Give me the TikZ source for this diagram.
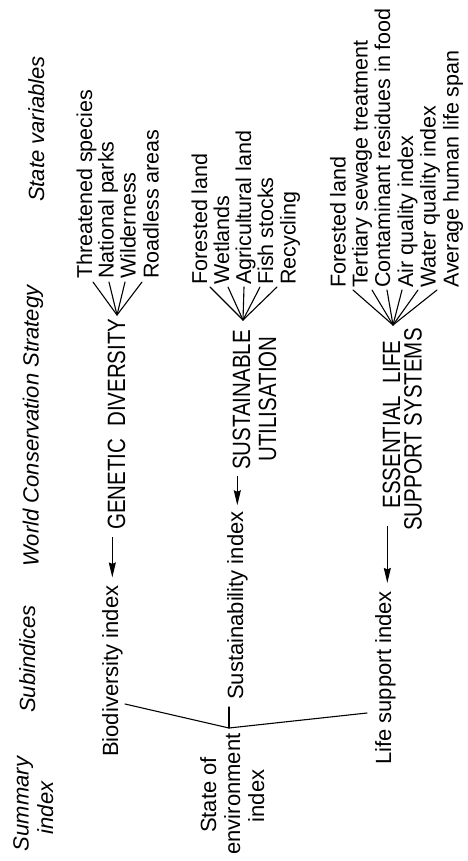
\documentclass[tikz,border=0pt]{standalone}
\usepackage{fontspec}
\setmainfont{Liberation Sans}
\newfontfamily\capsfont[FakeStretch=0.82]{Liberation Sans}
\usetikzlibrary{arrows.meta,calc}
\begin{document}
\begin{tikzpicture}[x=1pt,y=-1pt,
  lab/.style={rotate=90, inner sep=0pt, font=\fontsize{21.5}{24}\selectfont},
  sub/.style={rotate=90, inner sep=0pt, font=\fontsize{22}{24}\selectfont},
  caps/.style={rotate=90, inner sep=0pt, font=\capsfont\fontsize{25}{28}\selectfont},
  hdr/.style={rotate=90, inner sep=0pt, font=\itshape\fontsize{22}{24}\selectfont},
  ln/.style={line width=1.1pt, line cap=round},
  arr/.style={line width=1.1pt, -{Stealth[length=15pt,width=7pt,inset=1.5pt]}}]
\useasboundingbox (0,0) rectangle (467,861);

% headers
\node[hdr, anchor=base west] (hsv) at (44,202) {State variables};
\node[hdr, anchor=base west] (hwcs) at (38.5,567) {World Conservation Strategy};
\node[hdr, anchor=base west] (hsub) at (35,713) {Subindices};
\node[hdr, anchor=base] (hsum1) at (28.5,804) {Summary};
\node[hdr, anchor=base] (hsum2) at (53,808) {index};

% state variables: genetic diversity
\node[lab, anchor=base west] (g1) at (92,279) {Threatened species};
\node[lab, anchor=base west] (g2) at (113.5,279) {National parks};
\node[lab, anchor=base west] (g3) at (135.5,279) {Wilderness};
\node[lab, anchor=base west] (g4) at (158.5,279) {Roadless areas};

% state variables: sustainable utilisation
\node[lab, anchor=base west] (s1) at (207,285) {Forested land};
\node[lab, anchor=base west] (s2) at (229,285) {Wetlands};
\node[lab, anchor=base west] (s3) at (251,285) {Agricultural land};
\node[lab, anchor=base west] (s4) at (273,285) {Fish stocks};
\node[lab, anchor=base west] (s5) at (295.5,285) {Recycling};

% state variables: essential life support systems
\node[lab, anchor=base west] (e1) at (345.5,288) {Forested land};
\node[lab, anchor=base west] (e2) at (367.5,288) {Tertiary sewage treatment};
\node[lab, anchor=base west] (e3) at (390,288) {Contaminant residues in food};
\node[lab, anchor=base west] (e4) at (413,288) {Air quality index};
\node[lab, anchor=base west] (e5) at (435.5,288) {Water quality index};
\node[lab, anchor=base west] (e6) at (458.5,288) {Average human life span};

% world conservation strategy
\node[caps, anchor=base west] (gd) at (125,530) {GENETIC\hspace{0.25em} DIVERSITY};
\node[caps, anchor=base] (su1) at (250,400) {SUSTAINABLE};
\node[caps, anchor=base] (su2) at (276,399) {UTILISATION};
\node[caps, anchor=base] (es1) at (400,424.5) {ESSENTIAL\hspace{0.25em} LIFE};
\node[caps, anchor=base] (es2) at (421.5,429.5) {SUPPORT SYSTEMS};

% subindices
\node[sub, anchor=base west] (bio) at (118,757) {Biodiversity index};
\node[sub, anchor=base west] (sus) at (243,700) {Sustainability index};
\node[sub, anchor=base west] (lsi) at (391,765) {Life support index};

% summary index
\node[sub, anchor=base] (soe1) at (216,795) {State of};
\node[sub, anchor=base] (soe2) at (240,794) {environment};
\node[sub, anchor=base] (soe3) at (264,796) {index};

% fans
\coordinate (ga) at (117,315);
\foreach \x in {93,109,125,142} \draw[ln] (ga) -- (\x,282);
\coordinate (sa) at (243,320);
\foreach \x in {210,228,244,260,277} \draw[ln] (sa) -- (\x,287);
\coordinate (ea) at (393,325);
\foreach \x in {353,372,387,402,418,437} \draw[ln] (ea) -- (\x,290);

% arrows
\draw[arr, shorten <=7pt, shorten >=8pt] (gd.west -| bio.east) -- (bio.east);
\draw[arr, shorten <=6pt, shorten >=6pt] (su1.west -| sus.east) -- (sus.east);
\draw[arr, shorten <=17pt, shorten >=8pt] ($(es1.west -| lsi.east)+(2,0)$) -- ($(lsi.east)+(2,0)$);

% summary connectors
\coordinate (J) at (229,728);
\coordinate (jb) at (125,704);
\coordinate (jl) at (367,713);
\draw[ln] (jb) -- (J) -- (jl);
\draw[ln, shorten >=7pt] (J) -- (sus.west -| J);
\end{tikzpicture}
\end{document}
